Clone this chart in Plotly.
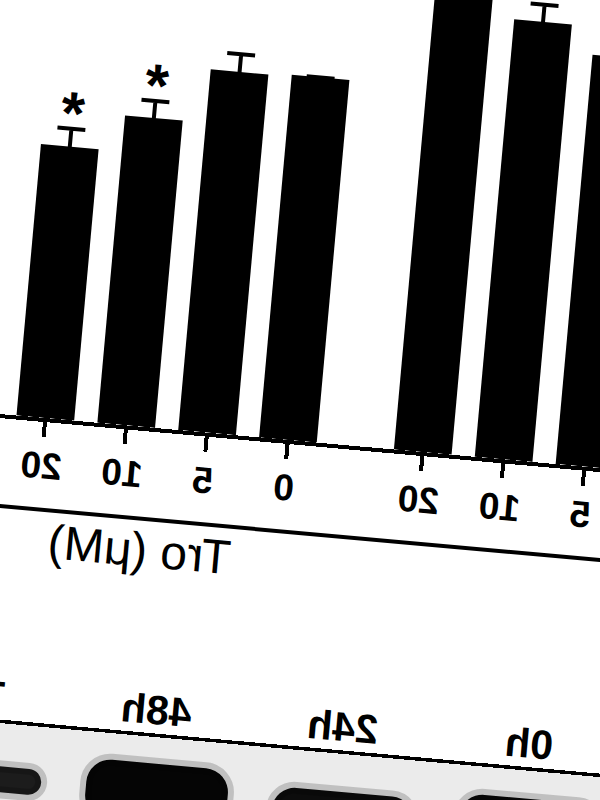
import plotly.graph_objects as go

# ---------------- data (original, un-mirrored order) ----------------
dose_labels = ["0", "5", "10", "20"]
group_a_vals = [100, 112.9, 120.7, 136]
group_a_err = [0, 4.8, 4.7, 4.8]
group_b_vals = [100, 99.5, 84.8, 74.9]
group_b_err = [0, 4.9, 4.7, 4.9]
group_b_sig = ["", "", "*", "*"]
axis_title = "Tro (μM)"

lane_labels = ["0h", "24h", "48h", "72h"]
band_top = [28, 38, 26.5, 43]
band_thickness = [60, 46, 60, 26]
band_shade = ["#080808", "#0c0c0c", "#050505", "#1c1c1c"]

# ---------------- layout constants ----------------
W, H = 760, 1000
GROUP_GAP = 1.667
BAR_W = 0.713
STAR_PAD = 2.75
BAND_SHIFT = -0.04
FONT = "Liberation Sans, Arial, sans-serif"

pos_a = [i for i in range(len(dose_labels))]
pos_b = [len(dose_labels) + GROUP_GAP - 1 + i for i in range(len(dose_labels))]
lanes = list(range(len(lane_labels)))

fig = go.Figure()

fig.add_trace(go.Bar(
    x=pos_a, y=group_a_vals, width=BAR_W,
    marker=dict(color="black", line=dict(width=0)),
    error_y=dict(type="data", array=group_a_err, visible=True,
                 color="black", thickness=4, width=14),
    xaxis="x", yaxis="y",
))
fig.add_trace(go.Bar(
    x=pos_b, y=group_b_vals, width=BAR_W,
    marker=dict(color="black", line=dict(width=0)),
    error_y=dict(type="data", array=group_b_err, visible=True,
                 color="black", thickness=4, width=14),
    xaxis="x", yaxis="y",
))
star_y = [v + e + STAR_PAD for v, e in zip(group_b_vals, group_b_err)]
fig.add_trace(go.Scatter(
    x=pos_b, y=star_y, text=group_b_sig, mode="text",
    textposition="middle center",
    textfont=dict(family=FONT, size=60, color="black", weight="bold"),
    xaxis="x", yaxis="y", hoverinfo="skip",
))

# western blot bands
fig.add_trace(go.Bar(
    x=[l + BAND_SHIFT for l in lanes], y=band_thickness, base=band_top,
    width=0.76,
    marker=dict(color=band_shade, cornerradius=24,
                line=dict(color="rgba(0,0,0,0.18)", width=12)),
    xaxis="x2", yaxis="y2",
))

fig.update_layout(
    width=W, height=H,
    margin=dict(l=0, r=0, t=0, b=0),
    paper_bgcolor="white", plot_bgcolor="white",
    showlegend=False, hovermode=False,
    xaxis=dict(
        domain=[0, 1], range=[-0.117, 9.243], anchor="y",
        tickvals=pos_a + pos_b, ticktext=dose_labels + dose_labels,
        ticks="outside", ticklen=15, tickwidth=4, tickcolor="black",
        ticklabelstandoff=-3,
        showline=True, linewidth=4, linecolor="black",
        tickfont=dict(family=FONT, size=37, color="black", weight="bold"),
        showgrid=False, zeroline=False,
    ),
    yaxis=dict(domain=[0.4591, 1], range=[0, 148.6], visible=False,
               showgrid=False, zeroline=False),
    xaxis2=dict(
        domain=[0, 1], range=[-0.647, 3.417], anchor="y2", side="top",
        tickvals=lanes, ticktext=lane_labels,
        ticks="", ticklabelstandoff=-7,
        showline=True, linewidth=3.5, linecolor="black",
        tickfont=dict(family=FONT, size=41, color="black", weight="bold"),
        showgrid=False, zeroline=False,
    ),
    yaxis2=dict(domain=[0, 0.1513], range=[151.3, 0], visible=False,
                showgrid=False, zeroline=False),
    shapes=[
        dict(type="line", xref="paper", yref="paper", x0=0, x1=1,
             y0=0.3675, y1=0.3675, line=dict(color="black", width=4)),
        dict(type="rect", xref="x2 domain", yref="y2 domain", x0=0, x1=1,
             y0=0, y1=1, fillcolor="#ebebeb", line=dict(width=0),
             layer="below"),
    ],
    annotations=[
        dict(text=axis_title, xref="paper", yref="paper", x=0.693, y=0.3364,
             xanchor="center", yanchor="middle", showarrow=False,
             font=dict(family=FONT, size=48, color="black")),
    ],
)

post = """
var gd = document.getElementById('{plot_id}');
document.documentElement.style.overflow = 'hidden';
document.body.style.margin = '0';
document.body.style.overflow = 'hidden';
document.body.style.background = 'white';
gd.style.position = 'absolute';
gd.style.left = '-80px';
gd.style.top = '-100px';
gd.style.transformOrigin = '380px 500px';
gd.style.transform = 'rotate(5.15deg) scaleX(-1)';
"""

fig.write_html("out.html", config={"displayModeBar": False, "staticPlot": True},
               post_script=post)
